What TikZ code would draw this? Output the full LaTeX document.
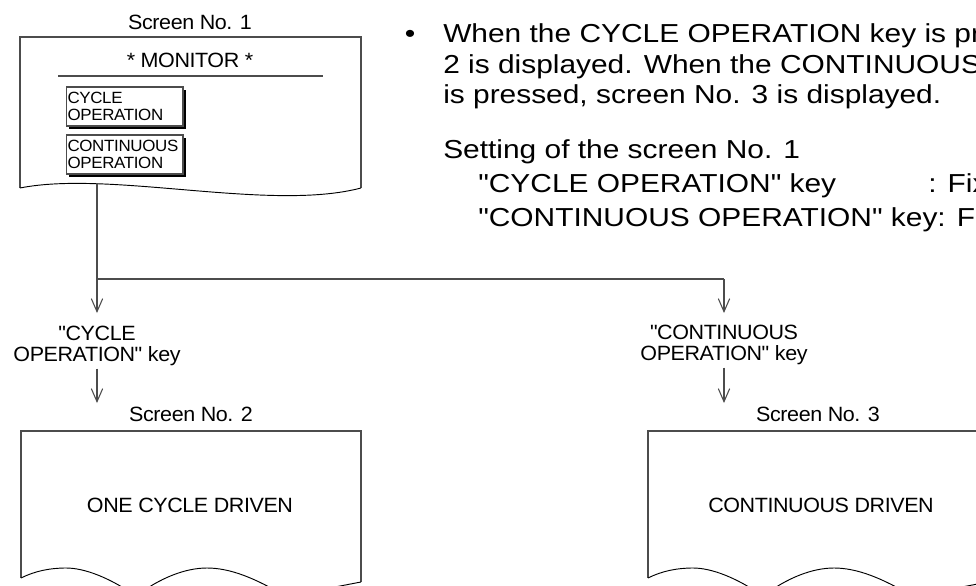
\documentclass[tikz,border=0pt]{standalone}
\usepackage{fontspec}
\setmainfont{Liberation Sans}
\newfontfamily\txtfont[FakeStretch=1.15]{Liberation Sans}
\newfontfamily\dgfont[FakeStretch=1.04,LetterSpace=-2]{Liberation Sans}
\usetikzlibrary{arrows.meta,shadows}
\begin{document}
\begin{tikzpicture}[x=0.75pt,y=-0.75pt,
  edge/.style={draw=black!70, line width=0.8pt},
  wave/.style={draw=black, line width=0.7pt},
  conn/.style={draw=black!70, line width=0.8pt},
  arr/.style={conn, -{Straight Barb[length=9.75pt,width=8.5pt]}},
  dglabel/.style={font=\dgfont\fontsize{15.5}{15.5}\selectfont, inner sep=0pt, align=center},
  btn/.style={draw=black!70, line width=0.8pt, fill=white, font=\dgfont\fontsize{12.2}{12.75}\selectfont,
     align=left, text width=85.5pt, inner xsep=1.1pt, inner ysep=0pt, minimum height=29.25pt,
     drop shadow={opacity=1, fill=black, shadow xshift=2.2pt, shadow yshift=-2.2pt}},
  para/.style={font=\txtfont\fontsize{19.5}{22}\selectfont, inner sep=0pt, anchor=base west}]
\useasboundingbox (0,0) rectangle (976,586);
\clip (0,0) rectangle (976,586);

% ---------- Screen 1 ----------
\node[dglabel] (t1) at (190,22) {Screen No. 1};
\draw[edge] (20,188) -- (20,37) -- (361,37) -- (361,188);
\draw[wave] (20,188) .. controls (110,170) and (270,212) .. (361,188);
\node[dglabel] (mon) at (190,60) {* MONITOR *};
\draw[edge] (58,76) -- (323,76);
\node[btn] (b1) at (124.5,106.5) {CYCLE\\OPERATION};
\node[btn] (b2) at (124.5,154.5) {CONTINUOUS\\OPERATION};

% ---------- connectors ----------
\coordinate (s1out) at (97,183);
\coordinate (split) at (97,279);
\coordinate (splitR) at (724,279);
\node[dglabel, anchor=north] (lab1) at (97,326) {"CYCLE\\OPERATION" key};
\node[dglabel, anchor=north] (lab2) at (724,325) {"CONTINUOUS\\OPERATION" key};
\coordinate (a2end) at (97,403);
\coordinate (a3end) at (724,403);
\draw[conn] (s1out) -- (split) -- (splitR);
\draw[arr] (split) -- ([yshift=9.75pt]lab1.north);
\draw[arr] (splitR) -- ([yshift=9pt]lab2.north);
\draw[arr] ([yshift=-2pt]lab1.south) -- (a2end);
\draw[arr] ([yshift=-2pt]lab2.south) -- (a3end);

% ---------- Screen 2 ----------
\node[dglabel] (t2) at (191,414) {Screen No. 2};
\node[dglabel] (d2) at (190,505) {ONE CYCLE DRIVEN};
\draw[edge] (21,578) -- (21,431) -- (361,431) -- (361,582);
\draw[wave] (21,578) .. controls (35,571) and (50,568) .. (66,568)
   .. controls (85,568) and (110,578) .. (136,596)
   .. controls (160,578) and (185,568) .. (207,568)
   .. controls (230,568) and (255,578) .. (285,596)
   .. controls (320,590) and (340,586) .. (361,582);

% ---------- Screen 3 ----------
\node[dglabel] (t3) at (818,414) {Screen No. 3};
\node[dglabel] (d3) at (821,505) {CONTINUOUS DRIVEN};
\begin{scope}[shift={(627,0)}]
\draw[edge] (21,578) -- (21,431) -- (361,431) -- (361,582);
\draw[wave] (21,578) .. controls (35,571) and (50,568) .. (66,568)
   .. controls (85,568) and (110,578) .. (136,596)
   .. controls (160,578) and (185,568) .. (207,568)
   .. controls (230,568) and (255,578) .. (285,596)
   .. controls (320,590) and (340,586) .. (361,582);
\end{scope}

% ---------- explanation ----------
\node[para, anchor=base] (bul) at (410,42) {•};
\node[para] (p1) at (443,42) {When the CYCLE OPERATION key is pr};
\node[para] (p2) at (443,73) {2 is displayed. When the CONTINUOUS};
\node[para] (p3) at (443,103) {is pressed, screen No. 3 is displayed.};
\node[para] (p4) at (443,158) {Setting of the screen No. 1};
\node[para] (p5) at (478,192) {"CYCLE OPERATION" key};
\node[para] (p5b) at (928,192) {: Fix};
\node[para] (p6) at (478,226) {"CONTINUOUS OPERATION" key: Fix};
\end{tikzpicture}
\end{document}
